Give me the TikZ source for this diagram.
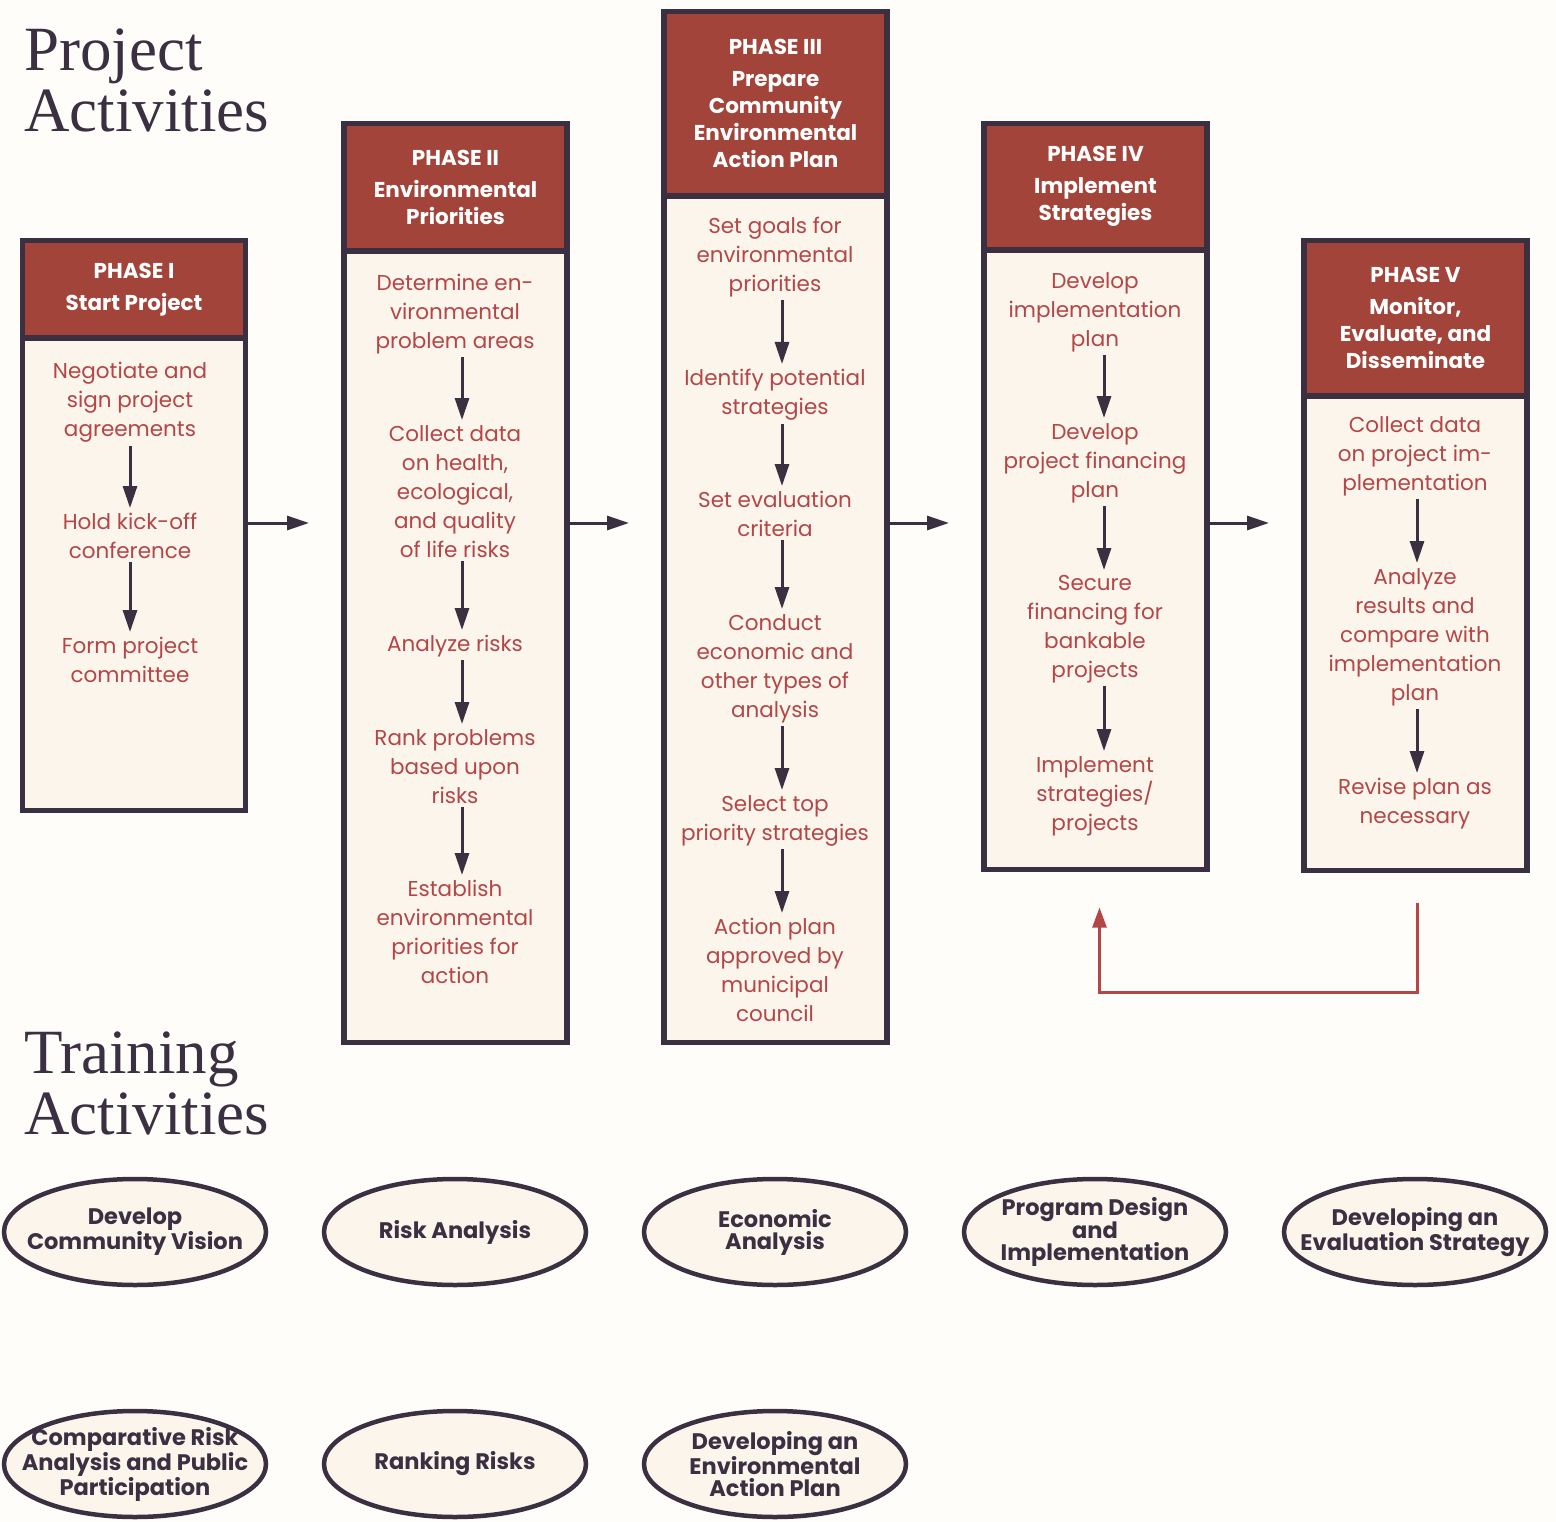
\documentclass[tikz,border=0pt]{standalone}
\usepackage{fontspec}
\setmainfont{Poppins}
\newfontfamily\titlefont{Liberation Serif}
\usetikzlibrary{shapes.geometric,arrows.meta,positioning}
\definecolor{frameInk}{RGB}{58,48,66}
\definecolor{headRed}{RGB}{163,68,58}
\definecolor{bodyCream}{RGB}{251,245,236}
\definecolor{taskRed}{RGB}{180,70,72}
\definecolor{paper}{RGB}{255,253,249}

\begin{document}
\begin{tikzpicture}[
        x=1pt, y=-1pt,
        head/.style={rectangle, draw=frameInk, fill=headRed, line width=5.5pt, minimum width=223pt, outer sep=0pt, inner sep=0pt, align=center, text=white, font=\fontsize{21.5}{27}\selectfont\bfseries, anchor=north},
        body/.style={rectangle, draw=frameInk, fill=bodyCream, line width=5.5pt, minimum width=223pt, outer sep=0pt, anchor=north},
        task/.style={align=center, anchor=north, inner sep=0pt, text=taskRed, font=\fontsize{21.5}{29}\selectfont, execute at begin node=\vphantom{Ah}},
        course/.style={ellipse, draw=frameInk, fill=bodyCream, line width=4.5pt, minimum width=262pt, minimum height=106pt, inner xsep=-24pt, inner ysep=0pt, align=center, text=frameInk, font=\fontsize{22.5}{22}\selectfont\bfseries},
        title/.style={anchor=north west, align=left, inner sep=0pt, text=frameInk, font=\titlefont\fontsize{63}{61}\selectfont},
        stepline/.style={-{Triangle[length=22pt,width=14pt]}, line width=3pt, draw=frameInk, shorten <=3pt, shorten >=5pt},
        phaseline/.style={-{Triangle[length=22pt,width=14pt]}, line width=3pt, draw=frameInk},
        loopline/.style={-{Triangle[length=20pt,width=14pt]}, line width=2.5pt, draw=taskRed}
    ]
        \fill[paper] (0,0) rectangle (1556,1522);
        \useasboundingbox (0,0) rectangle (1556,1522);

        % Titles
        \node[title] (projTitle) at (24,29) {Project\\Activities};
        \node[title] (trainTitle) at (24,1032) {Training\\Activities};

        % Phase I
        \node[head, minimum height=97.5pt] (head1) at (134,240.5) {PHASE I\\[5pt]Start Project};
        \node[body, minimum height=472.5pt, below=0pt of head1] (body1) {};
        \node[task] (t1a) at (130,362) {Negotiate and\\sign project\\agreements};
        \node[task] (t1b) at (130,513) {Hold kick-off\\conference};
        \node[task] (t1c) at (130,637) {Form project\\committee};

        % Phase II
        \node[head, minimum height=127.5pt] (head2) at (455.5,123.5) {PHASE II\\[5pt]Environmental\\Priorities};
        \node[body, minimum height=791.5pt, below=0pt of head2] (body2) {};
        \node[task] (t2a) at (455,274) {Determine en-\\vironmental\\problem areas};
        \node[task] (t2b) at (455,425) {Collect data\\on health,\\ecological,\\and quality\\of life risks};
        \node[task] (t2c) at (455,635) {Analyze risks};
        \node[task] (t2d) at (455,729) {Rank problems\\based upon\\risks};
        \node[task] (t2e) at (455,880) {Establish\\environmental\\priorities for\\action};

        % Phase III
        \node[head, minimum height=184.5pt] (head3) at (775.5,11.5) {PHASE III\\[5pt]Prepare\\Community\\Environmental\\Action Plan};
        \node[body, minimum height=846.5pt, below=0pt of head3] (body3) {};
        \node[task] (t3a) at (775,217) {Set goals for\\environmental\\priorities};
        \node[task] (t3b) at (775,369) {Identify potential\\strategies};
        \node[task] (t3c) at (775,491) {Set evaluation\\criteria};
        \node[task] (t3d) at (775,614) {Conduct\\economic and\\other types of\\analysis};
        \node[task] (t3e) at (775,795) {Select top\\priority strategies};
        \node[task] (t3f) at (775,918) {Action plan\\approved by\\municipal\\council};

        % Phase IV
        \node[head, minimum height=126.5pt] (head4) at (1095.5,123.5) {PHASE IV\\[5pt]Implement\\Strategies};
        \node[body, minimum height=619.5pt, below=0pt of head4] (body4) {};
        \node[task] (t4a) at (1095,272) {Develop\\implementation\\plan};
        \node[task] (t4b) at (1095,423) {Develop\\project financing\\plan};
        \node[task] (t4c) at (1095,575) {Secure\\financing for\\bankable\\projects};
        \node[task] (t4d) at (1095,756) {Implement\\strategies/\\projects};

        % Phase V
        \node[head, minimum height=155.5pt] (head5) at (1415.5,240.5) {PHASE V\\[5pt]Monitor,\\Evaluate, and\\Disseminate};
        \node[body, minimum height=474.5pt, below=0pt of head5] (body5) {};
        \node[task] (t5a) at (1415,416) {Collect data\\on project im-\\plementation};
        \node[task] (t5b) at (1415,568) {Analyze\\results and\\compare with\\implementation\\plan};
        \node[task] (t5c) at (1415,778) {Revise plan as\\necessary};

        % Arrows inside the phases
        \draw[stepline] (t1a.south) -- (t1b.north);
        \draw[stepline] (t1b.south) -- (t1c.north);
        \draw[stepline] ([xshift=7pt]t2a.south) -- ([xshift=7pt]t2b.north);
        \draw[stepline] ([xshift=7pt]t2b.south) -- ([xshift=7pt]t2c.north);
        \draw[stepline] ([xshift=7pt]t2c.south) -- ([xshift=7pt]t2d.north);
        \draw[stepline] ([xshift=7pt]t2d.south) -- ([xshift=7pt]t2e.north);
        \draw[stepline] ([xshift=7pt]t3a.south) -- ([xshift=7pt]t3b.north);
        \draw[stepline] ([xshift=7pt]t3b.south) -- ([xshift=7pt]t3c.north);
        \draw[stepline] ([xshift=7pt]t3c.south) -- ([xshift=7pt]t3d.north);
        \draw[stepline] ([xshift=7pt]t3d.south) -- ([xshift=7pt]t3e.north);
        \draw[stepline] ([xshift=7pt]t3e.south) -- ([xshift=7pt]t3f.north);
        \draw[stepline] ([xshift=9pt]t4a.south) -- ([xshift=9pt]t4b.north);
        \draw[stepline] ([xshift=9pt]t4b.south) -- ([xshift=9pt]t4c.north);
        \draw[stepline] ([xshift=9pt]t4c.south) -- ([xshift=9pt]t4d.north);
        \draw[stepline] ([xshift=2pt]t5a.south) -- ([xshift=2pt]t5b.north);
        \draw[stepline] ([xshift=2pt]t5b.south) -- ([xshift=2pt]t5c.north);

        % Arrows between the phases
        \coordinate (flow) at (0,523);
        \draw[phaseline, shorten <=-3pt, shorten >=35pt] (body1.east |- flow) -- (body2.west |- flow);
        \draw[phaseline, shorten <=-3pt, shorten >=35pt] (body2.east |- flow) -- (body3.west |- flow);
        \draw[phaseline, shorten <=-3pt, shorten >=35pt] (body3.east |- flow) -- (body4.west |- flow);
        \draw[phaseline, shorten <=-3pt, shorten >=35pt] (body4.east |- flow) -- (body5.west |- flow);

        % Feedback loop
        \draw[loopline] ([xshift=2pt,yshift=-32pt]body5.south) -- ++(0,90) -| ([xshift=4pt,yshift=-38pt]body4.south);

        % Training activities
        \node[course] (c1) at (135,1232) {Develop\\Community Vision};
        \node[course] (c2) at (455,1232) {Risk Analysis};
        \node[course] (c3) at (775,1232) {Economic\\Analysis};
        \node[course] (c4) at (1095,1232) {Program Design\\and\\Implementation};
        \node[course] (c5) at (1415,1232) {Developing an\\Evaluation Strategy};
        \node[course] (c6) at (135,1464) {Comparative Risk\\Analysis and Public\\Participation};
        \node[course] (c7) at (455,1464) {Ranking Risks};
        \node[course] (c8) at (775,1464) {Developing an\\Environmental\\Action Plan};

    \end{tikzpicture}
\end{document}
